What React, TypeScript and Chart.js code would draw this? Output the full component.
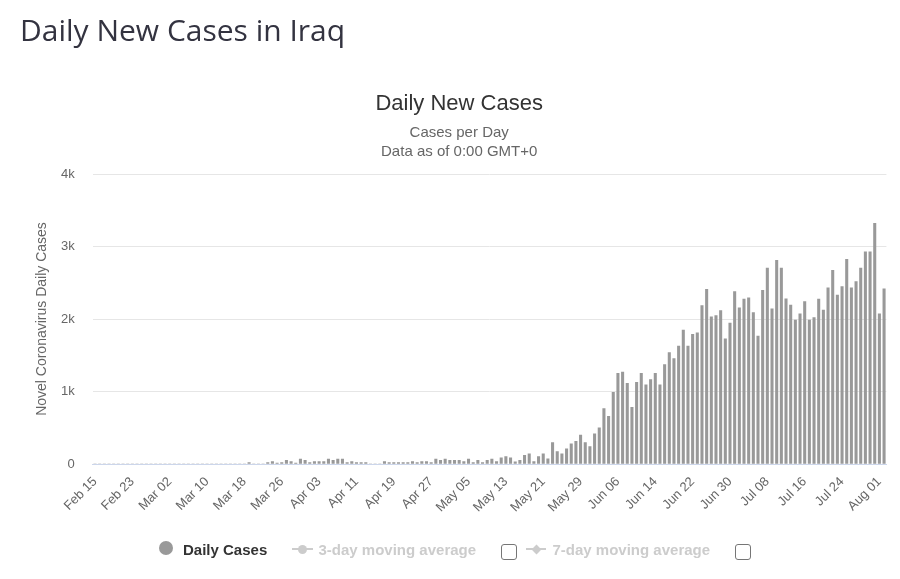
import React, { useEffect, useRef } from 'react';
import { Chart, registerables } from 'chart.js';

Chart.register(...registerables);

// ---- Data ----
const startYear = 2020;
const startMonth = 1; // February (0-based)
const startDay = 15;

const tickLabels = [
  'Feb 15', 'Feb 23', 'Mar 02', 'Mar 10', 'Mar 18', 'Mar 26', 'Apr 03', 'Apr 11',
  'Apr 19', 'Apr 27', 'May 05', 'May 13', 'May 21', 'May 29', 'Jun 06', 'Jun 14',
  'Jun 22', 'Jun 30', 'Jul 08', 'Jul 16', 'Jul 24', 'Aug 01',
];

const yTicks = [0, 1000, 2000, 3000, 4000];

// Daily new cases, Feb 15 .. Aug 02
const dailyCases = [
  0, 0, 0, 0, 0, 0, 0, 0, 0, 0, 0, 0, 0, 0, 0, 0, 0, 0, 0, 0,
  0, 0, 0, 0, 0, 0, 0, 0, 0, 0, 0, 0, 0, 18, 0, 0, 0, 18, 32, 14,
  18, 51, 32, 14, 69, 51, 18, 32, 32, 32, 69, 51, 69, 69, 18, 32, 18, 18, 18, 0,
  0, 0, 32, 18, 18, 18, 18, 18, 32, 18, 32, 32, 18, 69, 51, 69, 51, 51, 51, 32,
  69, 18, 51, 18, 51, 69, 32, 85, 101, 85, 30, 51, 118, 139, 33, 102, 139, 70, 296, 171,
  140, 209, 279, 312, 399, 295, 241, 415, 500, 765, 658, 988, 1250, 1268, 1112, 781, 1126, 1250, 1092, 1163,
  1250, 1092, 1370, 1538, 1455, 1626, 1848, 1626, 1790, 1808, 2184, 2408, 2030, 2048, 2115, 1725, 1945, 2379, 2155, 2274,
  2292, 2087, 1763, 2397, 2703, 2142, 2808, 2703, 2279, 2192, 1986, 2073, 2242, 1986, 2018, 2274, 2123, 2429, 2671, 2329,
  2447, 2822, 2429, 2516, 2703, 2927, 2927, 3320, 2073, 2416,
];

const monthNames = ['Jan', 'Feb', 'Mar', 'Apr', 'May', 'Jun', 'Jul', 'Aug', 'Sep', 'Oct', 'Nov', 'Dec'];

function buildCategories(n: number): string[] {
  const out: string[] = [];
  for (let i = 0; i < n; i++) {
    const d = new Date(Date.UTC(startYear, startMonth, startDay + i));
    const dd = String(d.getUTCDate()).padStart(2, '0');
    out.push(monthNames[d.getUTCMonth()] + ' ' + dd);
  }
  return out;
}

const categories = buildCategories(dailyCases.length);
const tickSet = new Set(tickLabels);

const FONT = "'Liberation Sans', Arial, Helvetica, sans-serif";

export default function App() {
  const canvasRef = useRef<HTMLCanvasElement | null>(null);

  useEffect(() => {
    if (!canvasRef.current) return;
    Chart.defaults.font.family = FONT;
    const chart = new Chart(canvasRef.current, {
      type: 'bar',
      data: {
        labels: categories,
        datasets: [
          {
            label: 'Daily Cases',
            data: dailyCases,
            backgroundColor: '#999999',
            borderWidth: 0,
            barThickness: 2.4,
          },
        ],
      },
      options: {
        responsive: false,
        animation: false,
        devicePixelRatio: 1,
        layout: { padding: { left: 32, right: 13.6, top: 0, bottom: 0 } },
        plugins: {
          legend: { display: false },
          tooltip: { enabled: false },
          title: {
            display: true,
            text: 'Daily New Cases',
            color: '#333333',
            font: { family: FONT, size: 22, weight: 'normal', lineHeight: 1.2 },
            padding: { top: 90.5, bottom: 0 },
          },
          subtitle: {
            display: true,
            text: ['Cases per Day', 'Data as of 0:00 GMT+0'],
            color: '#666666',
            font: { family: FONT, size: 15, weight: 'normal', lineHeight: 19 / 15 },
            padding: { top: 6.6, bottom: 12.5 },
          },
        },
        scales: {
          x: {
            grid: { display: false, drawTicks: false },
            border: { display: true, color: '#ccd6eb', width: 1 },
            ticks: {
              autoSkip: false,
              minRotation: 45,
              maxRotation: 45,
              padding: 10,
              color: '#666666',
              font: { family: FONT, size: 13 },
              callback: (_v: any, i: number) => (tickSet.has(categories[i]) ? categories[i] : ''),
            },
            afterFit: (s: any) => {
              s.height = 115;
              s.paddingLeft = 0;
              s.paddingRight = 0;
            },
          },
          y: {
            min: yTicks[0],
            max: yTicks[yTicks.length - 1],
            afterBuildTicks: (s: any) => {
              s.ticks = yTicks.map((v) => ({ value: v }));
            },
            ticks: {
              padding: 18,
              color: '#666666',
              font: { family: FONT, size: 13 },
              callback: (v: any) => (Number(v) === 0 ? '0' : Number(v) / 1000 + 'k'),
            },
            grid: {
              drawTicks: false,
              color: (ctx: any) => (ctx.tick && ctx.tick.value === 0 ? '#ccd6eb' : '#e6e6e6'),
            },
            border: { display: false },
            title: {
              display: true,
              text: 'Novel Coronavirus Daily Cases',
              color: '#666666',
              font: { family: FONT, size: 14 },
              padding: { top: 2, bottom: 0 },
            },
            afterFit: (s: any) => {
              s.width = 60.67;
            },
          },
        },
      },
    });
    return () => chart.destroy();
  }, []);

  const legendText: React.CSSProperties = {
    position: 'absolute',
    top: 541,
    fontFamily: FONT,
    fontSize: 15,
    fontWeight: 'bold',
    lineHeight: '18px',
    whiteSpace: 'nowrap',
  };
  const checkbox: React.CSSProperties = {
    position: 'absolute',
    top: 544,
    width: 14,
    height: 14,
    border: '1px solid #767676',
    borderRadius: 3,
    background: '#fff',
  };

  return (
    <div style={{ position: 'absolute', left: 0, top: 0, width: 900, height: 579, background: '#fff', overflow: 'hidden' }}>
      <canvas ref={canvasRef} width={900} height={579} style={{ position: 'absolute', left: 0, top: 0, width: 900, height: 579 }} />
      <div
        style={{
          position: 'absolute',
          left: 20,
          top: 12.4,
          fontFamily: "'Open Sans', 'Noto Sans', sans-serif",
          fontSize: 30,
          lineHeight: '36px',
          color: '#333340',
          whiteSpace: 'nowrap',
        }}
      >
        Daily New Cases in Iraq
      </div>

      {/* Legend */}
      <div style={{ position: 'absolute', left: 159, top: 540.5, width: 14, height: 14, borderRadius: '50%', background: '#999999' }} />
      <div style={{ ...legendText, left: 183, color: '#333333' }}>Daily Cases</div>

      <div style={{ position: 'absolute', left: 292, top: 548, width: 21, height: 2, background: '#cccccc' }} />
      <div style={{ position: 'absolute', left: 298, top: 545, width: 9, height: 9, borderRadius: '50%', background: '#cccccc' }} />
      <div style={{ ...legendText, left: 318.5, color: '#cccccc' }}>3-day moving average</div>
      <div style={{ ...checkbox, left: 501 }} />

      <div style={{ position: 'absolute', left: 526, top: 548, width: 20, height: 2, background: '#cccccc' }} />
      <div style={{ position: 'absolute', left: 532.5, top: 545.5, width: 7, height: 7, background: '#cccccc', transform: 'rotate(45deg)' }} />
      <div style={{ ...legendText, left: 552.5, color: '#cccccc' }}>7-day moving average</div>
      <div style={{ ...checkbox, left: 735 }} />
    </div>
  );
}
